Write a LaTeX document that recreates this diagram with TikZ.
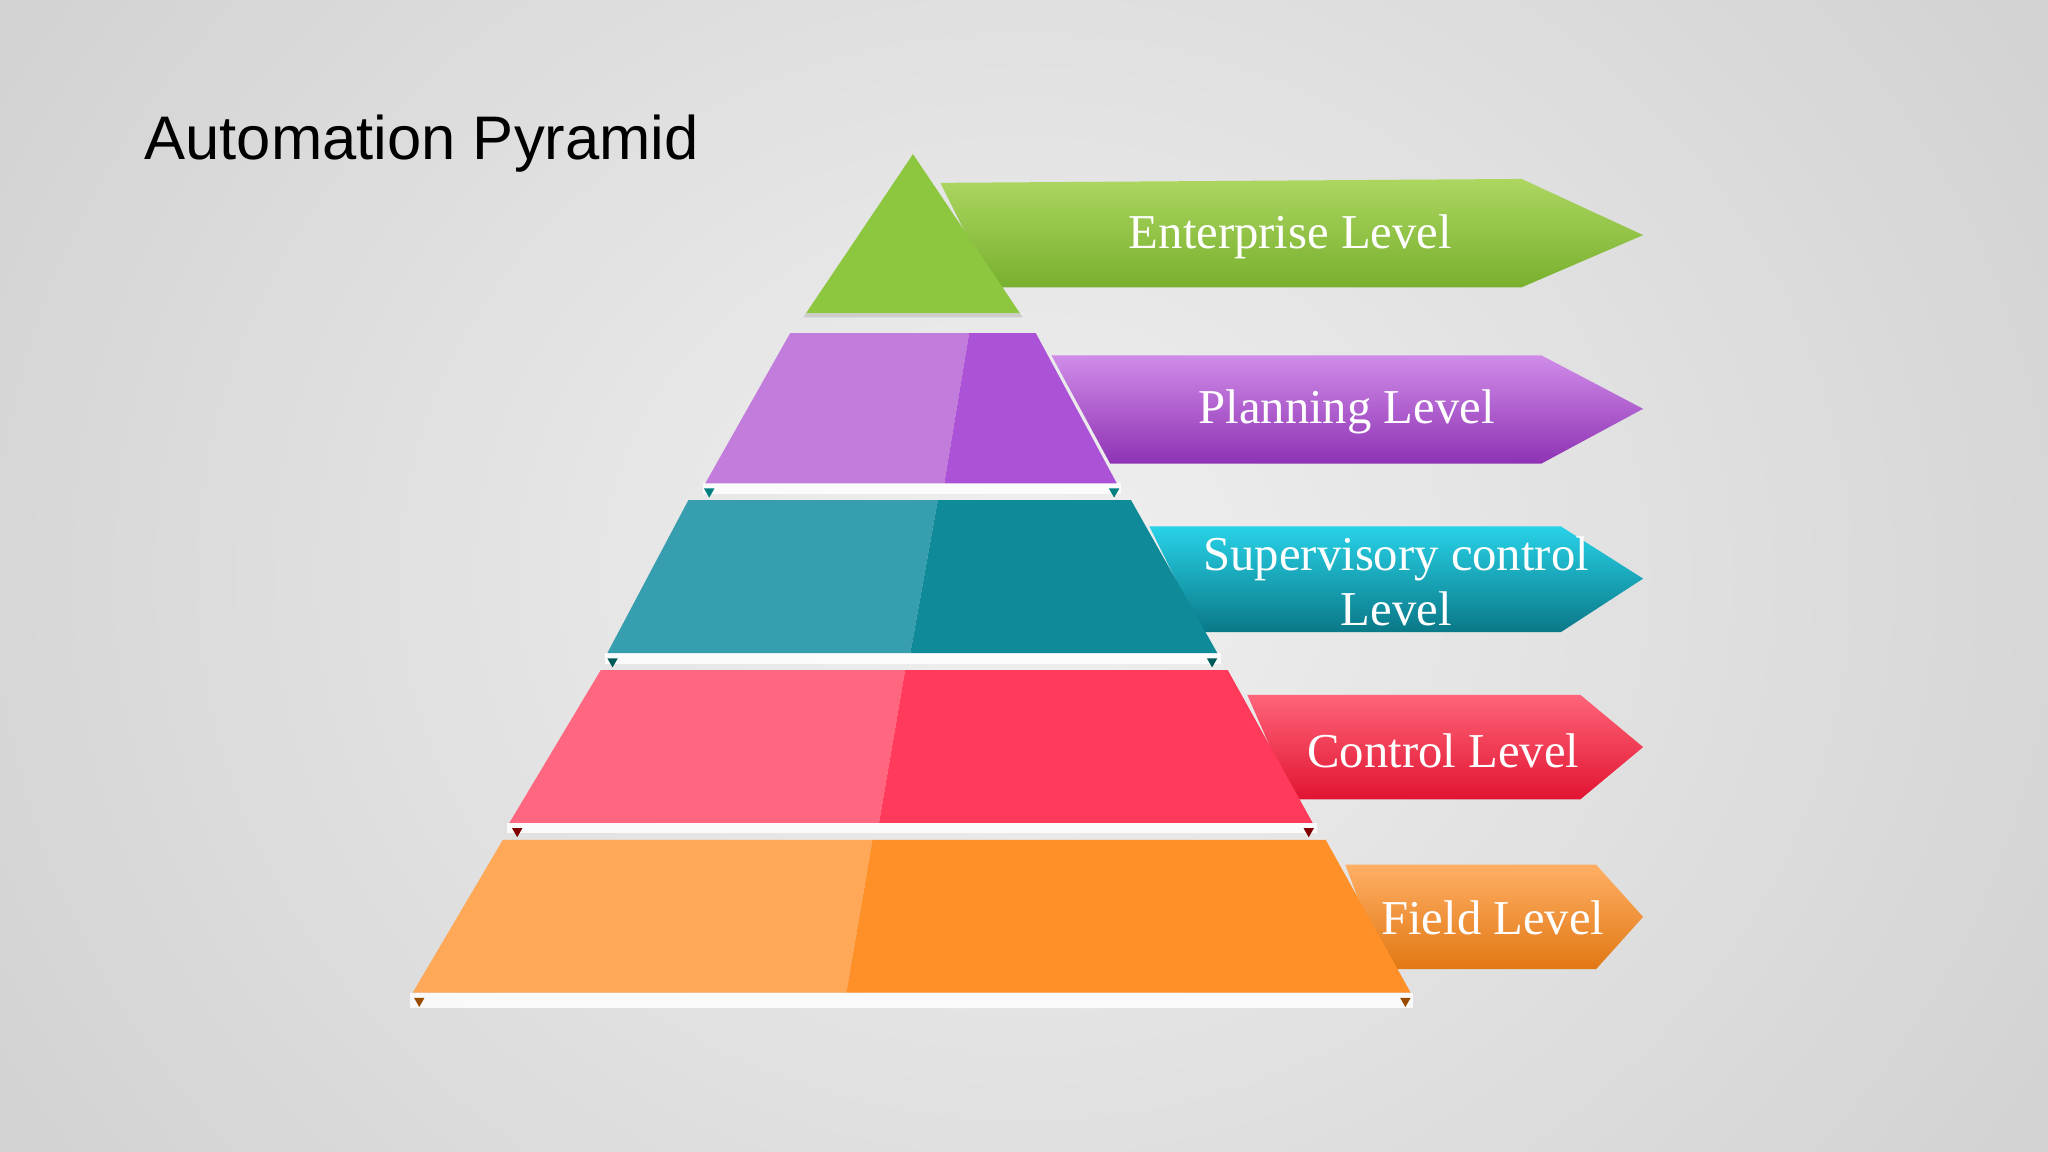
\documentclass[tikz,border=0pt]{standalone}
\usepackage{fontspec}
\setmainfont{Liberation Serif}
\newfontfamily\titlefont{Liberation Sans}
\definecolor{bgin}{RGB}{240,240,240}
\definecolor{bgout}{RGB}{205,205,205}
\definecolor{gtop}{RGB}{172,214,96}
\definecolor{gbot}{RGB}{120,176,46}
\definecolor{gtri}{RGB}{141,198,63}
\definecolor{ptop}{RGB}{208,140,232}
\definecolor{pbot}{RGB}{142,50,180}
\definecolor{ctop}{RGB}{40,210,232}
\definecolor{cbot}{RGB}{10,120,135}
\definecolor{rtop}{RGB}{255,100,120}
\definecolor{rbot}{RGB}{225,20,50}
\definecolor{otop}{RGB}{255,175,100}
\definecolor{obot}{RGB}{225,120,20}
\begin{document}
\begin{tikzpicture}[x=0.01cm,y=-0.01cm,
  lbl/.style={text=white,font=\fontsize{10.6}{12}\selectfont,align=center},
  strip/.style={fill=white,opacity=0.85}]
\useasboundingbox (0,0) rectangle (1568,882);
\fill[bgout] (0,0) rectangle (1568,882);
\shade[inner color=bgin,outer color=bgout] (-300,-500) rectangle (1868,1382);
\node[anchor=west,inner sep=0pt,font=\titlefont\fontsize{13.4}{15}\selectfont] (title) at (110,110) {Automation Pyramid};
% arrows
\shade[top color=gtop,bottom color=gbot] (720,140)--(1165,137)--(1258,180)--(1165,220)--(760,220)--cycle;
\shade[top color=ptop,bottom color=pbot] (805,272)--(1180,272)--(1258,313)--(1180,355)--(850,355)--cycle;
\shade[top color=ctop,bottom color=cbot] (880,403)--(1195,403)--(1258,443)--(1195,484)--(920,484)--cycle;
\shade[top color=rtop,bottom color=rbot] (955,532)--(1210,532)--(1258,572)--(1210,612)--(990,612)--cycle;
\shade[top color=otop,bottom color=obot] (1030,662)--(1222,662)--(1258,702)--(1222,742)--(1060,742)--cycle;
% strips
\fill[strip] (538,370) rectangle (858,378);
\fill[strip] (463,500) rectangle (935,508);
\fill[strip] (388,630) rectangle (1008,638);
\fill[strip] (314,760) rectangle (1082,772);
% pyramid
\fill[gtri] (699,118)--(781,240)--(617,240)--cycle;
\fill[white!60!gray] (617,240)--(781,240)--(783,243)--(615,243)--cycle;
\fill[color={rgb,255:red,194;green,125;blue,220}] (605,255)--(742,255)--(723,370)--(540,370)--cycle;
\fill[color={rgb,255:red,171;green,82;blue,214}] (742,255)--(793,255)--(855,370)--(723,370)--cycle;
\fill[color={rgb,255:red,55;green,158;blue,176}] (527,383)--(718,383)--(697,500)--(465,500)--cycle;
\fill[color={rgb,255:red,15;green,138;blue,152}] (718,383)--(866,383)--(932,500)--(697,500)--cycle;
\fill[color={rgb,255:red,255;green,102;blue,128}] (460,513)--(693,513)--(673,630)--(390,630)--cycle;
\fill[color={rgb,255:red,255;green,58;blue,90}] (693,513)--(940,513)--(1005,630)--(673,630)--cycle;
\fill[color={rgb,255:red,255;green,168;blue,88}] (385,643)--(668,643)--(648,760)--(316,760)--cycle;
\fill[color={rgb,255:red,255;green,144;blue,40}] (668,643)--(1015,643)--(1080,760)--(648,760)--cycle;
% corner marks
\foreach \x/\y/\c in {543/374/teal,853/374/teal,469/504/teal!70!black,928/504/teal!70!black,396/634/red!50!black,1002/634/red!50!black,321/764/orange!60!black,1076/764/orange!60!black}
  \fill[\c] (\x-4,\y)--(\x+4,\y)--(\x,\y+7)--cycle;
% labels
\node[lbl] (l1) at (988,181) {Enterprise Level};
\node[lbl] (l2) at (1031,315) {Planning Level};
\node[lbl] (l3) at (1069,445) {Supervisory control\\Level};
\node[lbl] (l4) at (1105,575) {Control Level};
\node[lbl] (l5) at (1143,703) {Field Level};
\end{tikzpicture}
\end{document}
